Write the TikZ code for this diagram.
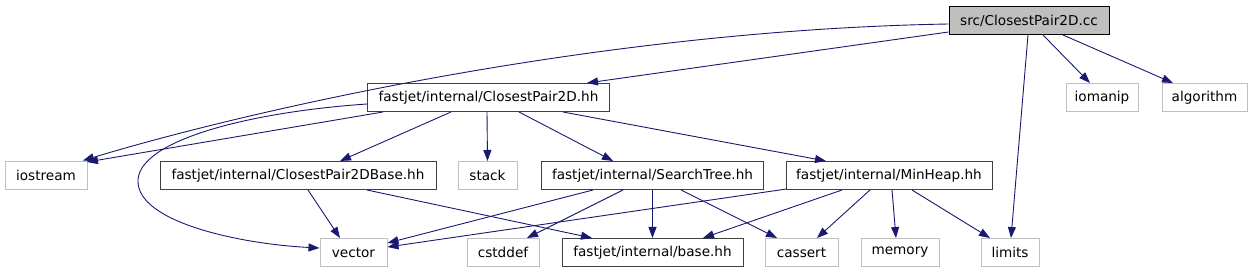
\documentclass[tikz,border=0pt]{standalone}
\usepackage{fontspec}
\setmainfont{DejaVu Sans}
\usetikzlibrary{arrows.meta}
\definecolor{edgecol}{HTML}{191970}
\definecolor{graybox}{HTML}{BFBFBF}
\definecolor{darkbox}{HTML}{404040}
\begin{document}
\begin{tikzpicture}[x=1pt,y=-1pt,
  base/.style={draw, line width=1pt, minimum height=28pt, inner sep=0pt, font=\fontsize{13.6}{15}\selectfont, anchor=center},
  inc/.style={base, draw=darkbox},
  sys/.style={base, draw=graybox},
  root/.style={base, draw=black, fill=graybox},
  edge/.style={draw=edgecol, line width=0.9pt, -{Triangle[length=11pt,width=8pt]}}]
\useasboundingbox (0,0) rectangle (1251,272);
% nodes
\node[root, minimum width=160pt] (cc) at (1029,20.5) {src/ClosestPair2D.cc};
\node[inc, minimum width=242pt] (cp) at (488.5,97.5) {fastjet/internal/ClosestPair2D.hh};
\node[sys, minimum width=72pt] (iomanip) at (1102,97.5) {iomanip};
\node[sys, minimum width=85pt] (algorithm) at (1204.5,97.5) {algorithm};
\node[sys, minimum width=82pt] (iostream) at (46,175.5) {iostream};
\node[inc, minimum width=276pt] (cpb) at (298,175.5) {fastjet/internal/ClosestPair2DBase.hh};
\node[sys, minimum width=59pt] (stack) at (487.5,175.5) {stack};
\node[inc, minimum width=222pt] (st) at (652.5,175.5) {fastjet/internal/SearchTree.hh};
\node[inc, minimum width=206pt] (mh) at (889,175.5) {fastjet/internal/MinHeap.hh};
\node[sys, minimum width=67pt] (vector) at (353.5,252.5) {vector};
\node[sys, minimum width=72pt] (cstddef) at (503,252.5) {cstddef};
\node[inc, minimum width=181pt] (basehh) at (652.5,252.5) {fastjet/internal/base.hh};
\node[sys, minimum width=73pt] (cassert) at (801.5,252.5) {cassert};
\node[sys, minimum width=78pt] (memory) at (900,252.5) {memory};
\node[sys, minimum width=58pt] (limits) at (1010,252.5) {limits};
% edges from cc
\draw[edge] ([yshift=-11.5pt]cc.west) -- ([xshift=98.5pt]cp.north);
\draw[edge] ([yshift=-3.5pt]cc.west) .. controls (600,30) and (250,110) .. ([xshift=37pt,yshift=0.5pt]iostream.north);
\draw[edge] ([xshift=14pt]cc.south) -- ([xshift=-12pt]iomanip.north);
\draw[edge] ([xshift=34pt]cc.south) -- ([xshift=-31.5pt]algorithm.north);
\draw[edge] ([xshift=-1pt]cc.south) -- ([xshift=1pt]limits.north);
% edges from ClosestPair2D.hh
\draw[edge] ([xshift=-105.5pt]cp.south) -- ([xshift=41pt,yshift=-1pt]iostream.north);
\draw[edge] ([yshift=-6.5pt]cp.west) .. controls (250,112) and (140,140) .. (138,180) .. controls (136,222) and (240,244) .. ([yshift=4.5pt]vector.west);
\draw[edge] ([xshift=-37.5pt]cp.south) -- ([xshift=42pt]cpb.north);
\draw[edge] ([xshift=-1.5pt]cp.south) -- (stack.north);
\draw[edge] ([xshift=30.5pt]cp.south) -- ([xshift=-39.5pt]st.north);
\draw[edge] ([xshift=74.5pt]cp.south) -- ([xshift=-63pt]mh.north);
% edges from ClosestPair2DBase.hh
\draw[edge] ([xshift=10pt]cpb.south) -- ([xshift=-13.5pt]vector.north);
\draw[edge] ([xshift=69pt]cpb.south) -- ([xshift=-60.5pt]basehh.north);
% edges from SearchTree.hh
\draw[edge] ([xshift=-59.5pt]st.south) -- ([yshift=9.5pt]vector.east);
\draw[edge] ([xshift=-29.5pt]st.south) -- ([xshift=24pt]cstddef.north);
\draw[edge] (st.south) -- (basehh.north);
\draw[edge] ([xshift=28.5pt]st.south) -- ([xshift=-24.5pt]cassert.north);
% edges from MinHeap.hh
\draw[edge] ([xshift=1pt,yshift=1pt]mh.south west) -- ([yshift=5.5pt]vector.east);
\draw[edge] ([xshift=-47pt]mh.south) -- ([xshift=50.5pt]basehh.north);
\draw[edge] ([xshift=-19pt]mh.south) -- ([xshift=15.5pt]cassert.north);
\draw[edge] ([xshift=3pt]mh.south) -- ([xshift=-4pt]memory.north);
\draw[edge] ([xshift=23pt]mh.south) -- ([xshift=-20pt]limits.north);
\end{tikzpicture}
\end{document}
